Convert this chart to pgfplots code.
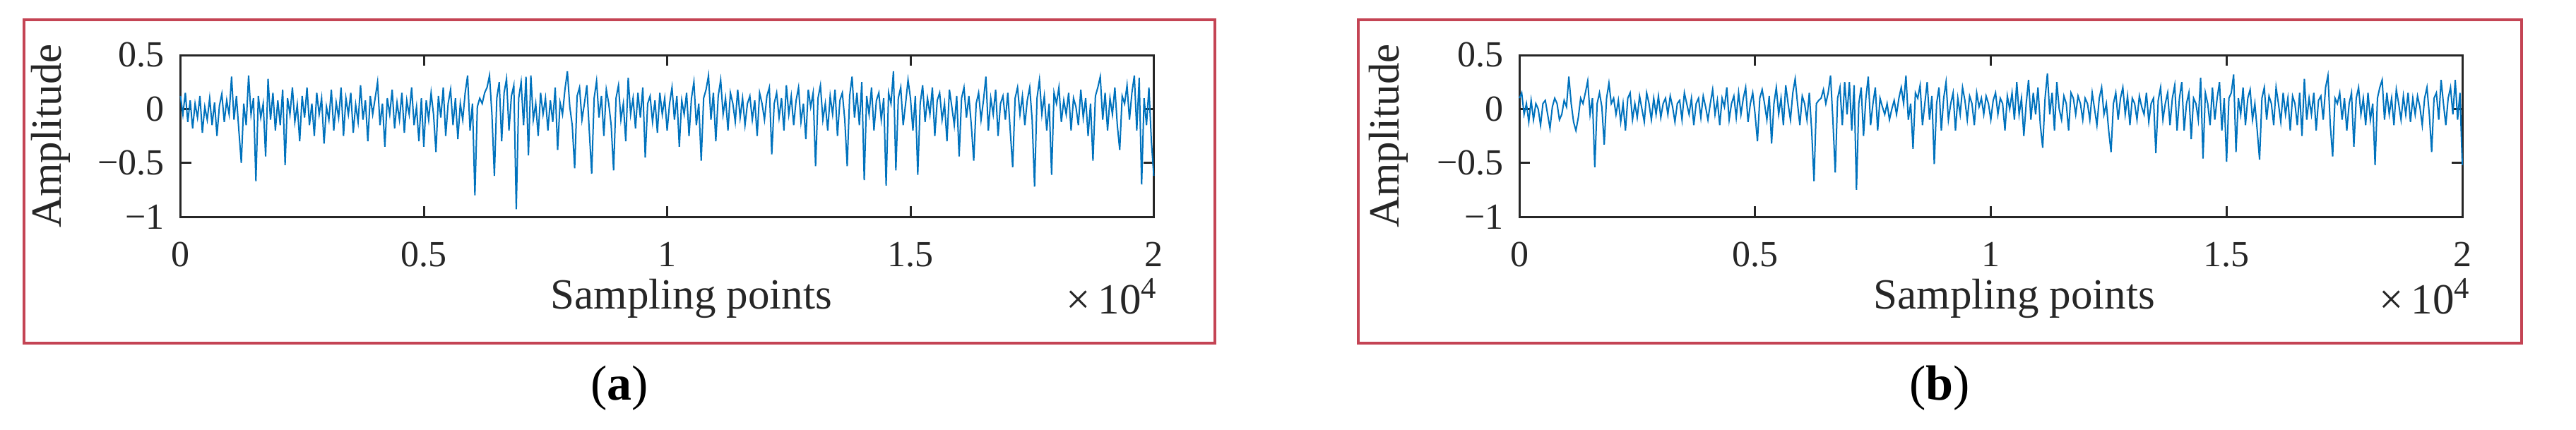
\documentclass[border=0pt]{standalone}
\usepackage{fontspec}
\setmainfont{Liberation Serif}
\usepackage{pgfplots}
\pgfplotsset{compat=1.18}

\definecolor{mblue}{RGB}{0,114,189}
\definecolor{axgray}{RGB}{38,38,38}
\definecolor{boxred}{RGB}{196,68,84}

\pgfplotsset{
  sigstyle/.style={
    scale only axis,
    clip=false,
    height=45.8pt,
    xmin=0, xmax=20000,
    ymin=-1, ymax=0.5,
    xtick={0,5000,10000,15000,20000},
    xticklabels={0,0.5,1,1.5,2},
    scaled x ticks=false,
    ytick={-1,-0.5,0,0.5},
    yticklabels={−1,−0.5,0,0.5},
    tick align=inside,
    tick pos=both,
    major tick length=3pt,
    axis line style={axgray, line width=0.6pt},
    every tick/.style={axgray, line width=0.6pt},
    tick label style={font=\fontsize{10.4}{12}\selectfont, text=axgray},
    xticklabel style={yshift=-3.6pt},
    yticklabel style={xshift=-1pt},
    label style={font=\fontsize{12.2}{14}\selectfont, text=axgray},
    xlabel={Sampling points},
    xlabel style={at={(axis description cs:0.525,-0.568)}, anchor=base},
    ylabel={Amplitude},
    /pgf/number format/assume math mode=true,
    cycle list={{mblue, no marks, line width=0.8pt, line join=round}},
  }
}

\begin{document}
\begin{tikzpicture}
\path[use as bounding box] (0,0) rectangle (729.4pt,121.6pt);

% red frames
\draw[boxred, line width=0.8pt] (6.8pt,24.4pt) rectangle (344pt,116pt);
\draw[boxred, line width=0.8pt] (384.6pt,24.4pt) rectangle (714pt,116pt);

% (a) original signal
\begin{axis}[sigstyle, at={(51.1pt,60.2pt)}, anchor=south west, width=275.6pt,
  ylabel style={at={(axis description cs:-0.133,0.5)}, anchor=center}]
\addplot coordinates {
(0,0.12)(50,-0.05)(100,0.15)(150,-0.12)(200,0.08)(250,-0.18)(300,0.05)(350,-0.08)(400,0.12)(450,-0.22)(500,0.02)(550,-0.1)(600,0.1)(650,-0.15)(700,0.06)(750,-0.25)(800,0.03)(850,0.14)(900,-0.12)(950,0.08)
(1000,-0.05)(1050,0.30)(1100,-0.1)(1150,0.12)(1200,-0.2)(1250,-0.5)(1300,0.05)(1350,-0.15)(1400,0.31)(1450,-0.05)(1500,0.1)(1550,-0.67)(1600,0.12)(1650,-0.08)(1700,0.05)(1750,-0.44)(1800,0.28)(1850,-0.1)(1900,0.15)(1950,-0.2)
(2000,0.08)(2050,-0.15)(2100,0.18)(2150,-0.52)(2200,0.1)(2250,-0.05)(2300,0.2)(2350,-0.12)(2400,0.04)(2450,-0.3)(2500,0.12)(2550,-0.08)(2600,0.2)(2650,-0.15)(2700,0.05)(2750,-0.25)(2800,0.15)(2850,-0.05)(2900,0.1)(2950,-0.32)
(3000,0.02)(3050,-0.1)(3100,0.18)(3150,-0.2)(3200,0.06)(3250,-0.08)(3300,0.2)(3350,-0.25)(3400,0.1)(3450,-0.05)(3500,0.15)(3550,-0.22)(3600,0.04)(3650,-0.12)(3700,0.22)(3750,-0.1)(3800,0.08)(3850,-0.3)(3900,0.12)(3950,-0.05)
(4000,0.1)(4050,0.25)(4100,-0.15)(4150,0.05)(4200,-0.35)(4250,0.1)(4300,-0.05)(4350,0.18)(4400,-0.18)(4450,0.06)(4500,-0.1)(4550,0.15)(4600,-0.22)(4650,0.08)(4700,-0.05)(4750,0.2)(4800,-0.15)(4850,0.02)(4900,-0.3)(4950,0.1)
(5000,-0.35)(5050,0.08)(5100,-0.1)(5150,0.15)(5200,-0.05)(5250,-0.4)(5300,0.12)(5350,-0.08)(5400,0.2)(5450,-0.25)(5500,0.05)(5550,0.18)(5600,-0.15)(5650,0.1)(5700,-0.28)(5750,0.05)(5800,-0.1)(5850,0.15)(5900,0.31)(5950,-0.2)
(6000,0.05)(6050,-0.80)(6100,0.02)(6150,0.1)(6200,0.05)(6250,0.15)(6300,0.2)(6350,0.31)(6400,-0.05)(6450,-0.62)(6500,0.1)(6550,0.25)(6600,-0.3)(6650,0.15)(6700,0.28)(6750,-0.2)(6800,0.12)(6850,0.22)(6900,-0.93)(6950,0.1)
(7000,0.25)(7050,-0.15)(7100,0.3)(7150,-0.43)(7200,0.31)(7250,-0.1)(7300,0.05)(7350,-0.25)(7400,0.15)(7450,-0.05)(7500,0.1)(7550,-0.2)(7600,0.08)(7650,-0.12)(7700,0.2)(7750,-0.38)(7800,0.06)(7850,-0.05)(7900,0.18)(7950,0.35)
(8000,0.02)(8050,-0.15)(8100,-0.55)(8150,0.12)(8200,0.2)(8250,-0.1)(8300,0.05)(8350,0.22)(8400,-0.2)(8450,-0.6)(8500,0.1)(8550,0.26)(8600,-0.08)(8650,0.12)(8700,-0.25)(8750,0.18)(8800,0.05)(8850,-0.15)(8900,-0.57)(8950,0.1)
(9000,0.22)(9050,-0.1)(9100,0.05)(9150,-0.3)(9200,0.29)(9250,-0.05)(9300,0.1)(9350,-0.18)(9400,0.15)(9450,-0.08)(9500,0.2)(9550,-0.45)(9600,0.05)(9650,0.12)(9700,-0.12)(9750,0.08)(9800,-0.22)(9850,0.15)(9900,-0.05)(9950,0.1)
(10000,-0.2)(10050,0.05)(10100,0.2)(10150,-0.1)(10200,0.12)(10250,-0.35)(10300,0.08)(10350,-0.05)(10400,0.15)(10450,-0.25)(10500,0.1)(10550,0.25)(10600,-0.15)(10650,0.05)(10700,-0.48)(10750,0.1)(10800,0.18)(10850,0.31)(10900,-0.1)(10950,0.15)
(11000,-0.3)(11050,0.12)(11100,0.27)(11150,-0.05)(11200,0.1)(11250,-0.2)(11300,0.15)(11350,0.05)(11400,-0.12)(11450,0.18)(11500,-0.08)(11550,0.1)(11600,-0.15)(11650,0.05)(11700,0.12)(11750,-0.1)(11800,0.08)(11850,-0.25)(11900,0.15)(11950,0.05)
(12000,-0.1)(12050,0.12)(12100,0.2)(12150,-0.42)(12200,0.05)(12250,0.15)(12300,-0.08)(12350,0.1)(12400,-0.2)(12450,0.22)(12500,-0.05)(12550,0.12)(12600,-0.15)(12650,0.08)(12700,0.2)(12750,-0.12)(12800,0.05)(12850,-0.28)(12900,0.18)(12950,0.02)
(13000,0.15)(13050,-0.53)(13100,0.1)(13150,0.22)(13200,-0.1)(13250,0.05)(13300,-0.2)(13350,0.12)(13400,-0.05)(13450,0.18)(13500,-0.25)(13550,0.08)(13600,0.15)(13650,-0.1)(13700,-0.53)(13750,0.12)(13800,0.30)(13850,-0.08)(13900,0.15)(13950,-0.15)
(14000,0.25)(14050,-0.66)(14100,0.12)(14150,-0.05)(14200,0.2)(14250,-0.2)(14300,0.08)(14350,0.15)(14400,-0.1)(14450,0.1)(14500,-0.71)(14550,0.15)(14600,0.05)(14650,0.35)(14700,-0.57)(14750,0.1)(14800,0.2)(14850,-0.15)(14900,0.05)(14950,0.27)
(15000,0.1)(15050,-0.2)(15100,0.12)(15150,-0.61)(15200,0.05)(15250,0.22)(15300,-0.12)(15350,0.1)(15400,-0.05)(15450,0.2)(15500,-0.25)(15550,0.08)(15600,0.15)(15650,-0.1)(15700,0.05)(15750,-0.3)(15800,0.18)(15850,0.02)(15900,-0.15)(15950,0.12)
(16000,-0.44)(16050,0.1)(16100,0.2)(16150,-0.08)(16200,0.12)(16250,-0.15)(16300,-0.48)(16350,0.05)(16400,0.15)(16450,-0.1)(16500,0.08)(16550,0.30)(16600,-0.2)(16650,0.1)(16700,-0.05)(16750,0.18)(16800,-0.25)(16850,0.05)(16900,0.12)(16950,-0.1)
(17000,0.15)(17050,-0.2)(17100,-0.54)(17150,0.1)(17200,0.2)(17250,-0.05)(17300,0.12)(17350,-0.15)(17400,0.08)(17450,0.2)(17500,-0.1)(17550,-0.72)(17600,0.1)(17650,0.27)(17700,-0.05)(17750,0.12)(17800,-0.2)(17850,0.05)(17900,-0.61)(17950,0.15)
(18000,0.05)(18050,0.2)(18100,-0.12)(18150,0.08)(18200,-0.05)(18250,0.15)(18300,-0.2)(18350,0.1)(18400,0.02)(18450,-0.15)(18500,0.18)(18550,-0.08)(18600,0.1)(18650,-0.25)(18700,0.05)(18750,-0.48)(18800,0.12)(18850,0.2)(18900,0.30)(18950,-0.1)
(19000,0.15)(19050,-0.2)(19100,0.1)(19150,-0.05)(19200,0.2)(19250,-0.15)(19300,-0.38)(19350,0.12)(19400,0.05)(19450,0.22)(19500,-0.1)(19550,0.15)(19600,0.31)(19650,-0.2)(19700,0.29)(19750,-0.70)(19800,0.1)(19850,-0.15)(19900,0.2)(19950,-0.3)
(20000,-0.62)
};
\node[font=\fontsize{12.2}{14}\selectfont, text=axgray, anchor=base east, inner sep=0pt]
  at (axis description cs:1.005,-0.6) {×\,10\textsuperscript{4}};
\end{axis}

% (b) denoised signal
\begin{axis}[sigstyle, at={(430.2pt,60.2pt)}, anchor=south west, width=267pt,
  ylabel style={at={(axis description cs:-0.139,0.5)}, anchor=center}]
\addplot coordinates {
(0,0.1)(50,0.15)(100,-0.05)(150,0.05)(200,-0.12)(250,0.08)(300,-0.1)(350,0.05)(400,0.0)(450,-0.15)(500,0.05)(550,0.08)(600,-0.05)(650,-0.18)(700,0.02)(750,0.1)(800,0.05)(850,-0.1)(900,-0.05)(950,0.08)
(1000,0.02)(1050,0.30)(1100,0.05)(1150,-0.12)(1200,-0.2)(1250,-0.08)(1300,0.1)(1350,0.05)(1400,0.15)(1450,0.26)(1500,-0.05)(1550,0.1)(1600,-0.54)(1650,0.05)(1700,0.15)(1750,0.02)(1800,-0.33)(1850,0.1)(1900,0.24)(1950,0.05)
(2000,0.1)(2050,-0.05)(2100,0.08)(2150,-0.12)(2200,0.05)(2250,-0.2)(2300,0.1)(2350,0.15)(2400,-0.1)(2450,0.05)(2500,-0.08)(2550,0.12)(2600,0.0)(2650,-0.12)(2700,0.15)(2750,0.05)(2800,-0.1)(2850,0.1)(2900,-0.05)(2950,0.12)
(3000,-0.08)(3050,0.05)(3100,0.1)(3150,-0.05)(3200,0.12)(3250,0.02)(3300,-0.12)(3350,0.05)(3400,0.08)(3450,-0.1)(3500,0.15)(3550,0.05)(3600,-0.05)(3650,0.1)(3700,-0.15)(3750,0.05)(3800,0.1)(3850,-0.08)(3900,0.12)(3950,0.02)
(4000,-0.1)(4050,0.05)(4100,0.18)(4150,-0.05)(4200,0.08)(4250,-0.15)(4300,0.1)(4350,0.02)(4400,0.2)(4450,-0.1)(4500,0.05)(4550,0.12)(4600,-0.08)(4650,0.15)(4700,-0.05)(4750,0.1)(4800,0.2)(4850,-0.12)(4900,0.05)(4950,0.15)
(5000,-0.05)(5050,-0.3)(5100,0.1)(5150,0.18)(5200,0.05)(5250,-0.1)(5300,0.12)(5350,-0.32)(5400,0.05)(5450,0.2)(5500,-0.05)(5550,0.1)(5600,-0.15)(5650,0.22)(5700,0.05)(5750,-0.1)(5800,0.15)(5850,0.28)(5900,0.05)(5950,-0.15)
(6000,0.12)(6050,0.05)(6100,-0.1)(6150,0.15)(6200,-0.2)(6250,-0.67)(6300,0.05)(6350,0.08)(6400,0.1)(6450,0.18)(6500,0.05)(6550,0.15)(6600,0.31)(6650,-0.1)(6700,-0.59)(6750,0.1)(6800,0.2)(6850,-0.15)(6900,0.25)(6950,-0.05)
(7000,0.25)(7050,-0.2)(7100,0.22)(7150,-0.75)(7200,0.05)(7250,0.2)(7300,-0.25)(7350,0.1)(7400,0.3)(7450,-0.15)(7500,0.05)(7550,0.2)(7600,-0.2)(7650,0.1)(7700,0.02)(7750,-0.05)(7800,0.05)(7850,-0.1)(7900,0.0)(7950,0.08)
(8000,-0.05)(8050,0.1)(8100,0.2)(8150,0.05)(8200,0.31)(8250,-0.1)(8300,0.05)(8350,-0.37)(8400,0.15)(8450,0.1)(8500,0.22)(8550,-0.15)(8600,0.05)(8650,0.25)(8700,-0.1)(8750,0.12)(8800,-0.51)(8850,0.05)(8900,0.2)(8950,-0.2)
(9000,0.1)(9050,0.25)(9100,-0.1)(9150,0.05)(9200,0.15)(9250,-0.2)(9300,0.1)(9350,-0.05)(9400,0.2)(9450,0.08)(9500,-0.1)(9550,0.12)(9600,0.05)(9650,-0.15)(9700,0.15)(9750,0.02)(9800,0.1)(9850,-0.05)(9900,0.12)(9950,0.05)
(10000,-0.1)(10050,0.08)(10100,0.15)(10150,-0.05)(10200,0.1)(10250,0.05)(10300,-0.2)(10350,0.12)(10400,0.0)(10450,0.15)(10500,-0.1)(10550,0.25)(10600,-0.05)(10650,0.1)(10700,-0.25)(10750,0.05)(10800,0.27)(10850,-0.1)(10900,0.15)(10950,-0.05)
(11000,0.2)(11050,-0.15)(11100,-0.36)(11150,0.1)(11200,0.33)(11250,-0.05)(11300,0.15)(11350,-0.2)(11400,0.25)(11450,0.0)(11500,-0.1)(11550,0.12)(11600,0.05)(11650,-0.2)(11700,0.15)(11750,0.1)(11800,-0.05)(11850,0.12)(11900,0.05)(11950,-0.1)
(12000,0.1)(12050,0.05)(12100,-0.1)(12150,0.15)(12200,0.0)(12250,-0.15)(12300,0.1)(12350,0.2)(12400,-0.05)(12450,0.05)(12500,-0.2)(12550,-0.4)(12600,0.05)(12650,0.15)(12700,-0.1)(12750,0.1)(12800,0.2)(12850,-0.05)(12900,0.12)(12950,-0.15)
(13000,0.1)(13050,0.05)(13100,-0.1)(13150,0.12)(13200,0.02)(13250,-0.05)(13300,0.15)(13350,-0.12)(13400,0.05)(13450,0.1)(13500,-0.41)(13550,0.08)(13600,0.2)(13650,-0.1)(13700,0.05)(13750,0.15)(13800,-0.15)(13850,0.1)(13900,0.22)(13950,-0.2)
(14000,0.1)(14050,0.25)(14100,-0.2)(14150,0.05)(14200,0.15)(14250,-0.28)(14300,0.1)(14350,0.05)(14400,-0.1)(14450,0.29)(14500,-0.46)(14550,0.15)(14600,0.05)(14650,-0.15)(14700,0.2)(14750,-0.1)(14800,0.1)(14850,0.25)(14900,-0.2)(14950,0.1)
(15000,-0.49)(15050,0.1)(15100,0.15)(15150,0.32)(15200,-0.4)(15250,0.1)(15300,-0.05)(15350,0.2)(15400,-0.15)(15450,0.1)(15500,0.18)(15550,-0.1)(15600,0.05)(15650,-0.2)(15700,-0.47)(15750,0.1)(15800,0.2)(15850,-0.1)(15900,0.12)(15950,0.05)
(16000,-0.15)(16050,0.2)(16100,0.05)(16150,-0.12)(16200,0.15)(16250,-0.05)(16300,0.1)(16350,-0.2)(16400,0.12)(16450,0.05)(16500,-0.15)(16550,0.15)(16600,-0.25)(16650,0.28)(16700,-0.1)(16750,0.1)(16800,-0.05)(16850,0.15)(16900,-0.2)(16950,0.08)
(17000,0.12)(17050,-0.1)(17100,0.2)(17150,0.31)(17200,-0.15)(17250,-0.44)(17300,0.1)(17350,0.05)(17400,0.15)(17450,-0.1)(17500,0.1)(17550,-0.2)(17600,0.05)(17650,0.15)(17700,-0.35)(17750,0.1)(17800,0.2)(17850,-0.05)(17900,0.1)(17950,-0.15)
(18000,0.15)(18050,-0.1)(18100,0.05)(18150,-0.52)(18200,0.1)(18250,0.2)(18300,0.27)(18350,-0.1)(18400,0.15)(18450,-0.05)(18500,0.1)(18550,-0.15)(18600,0.18)(18650,0.05)(18700,-0.1)(18750,0.12)(18800,-0.05)(18850,0.15)(18900,-0.12)(18950,0.1)
(19000,-0.05)(19050,0.12)(19100,0.02)(19150,-0.15)(19200,0.1)(19250,0.2)(19300,-0.05)(19350,-0.4)(19400,0.1)(19450,0.15)(19500,-0.1)(19550,0.27)(19600,0.05)(19650,-0.15)(19700,0.1)(19750,0.2)(19800,-0.05)(19850,0.27)(19900,-0.1)(19950,0.15)
(20000,-0.52)
};
\node[font=\fontsize{12.2}{14}\selectfont, text=axgray, anchor=base east, inner sep=0pt]
  at (axis description cs:1.01,-0.6) {×\,10\textsuperscript{4}};
\end{axis}

% panel labels
\node[font=\fontsize{14}{16}\selectfont] at (175.4pt,11.6pt) {(\textbf{a})};
\node[font=\fontsize{14}{16}\selectfont] at (549.2pt,11.6pt) {(\textbf{b})};
\end{tikzpicture}
\end{document}
